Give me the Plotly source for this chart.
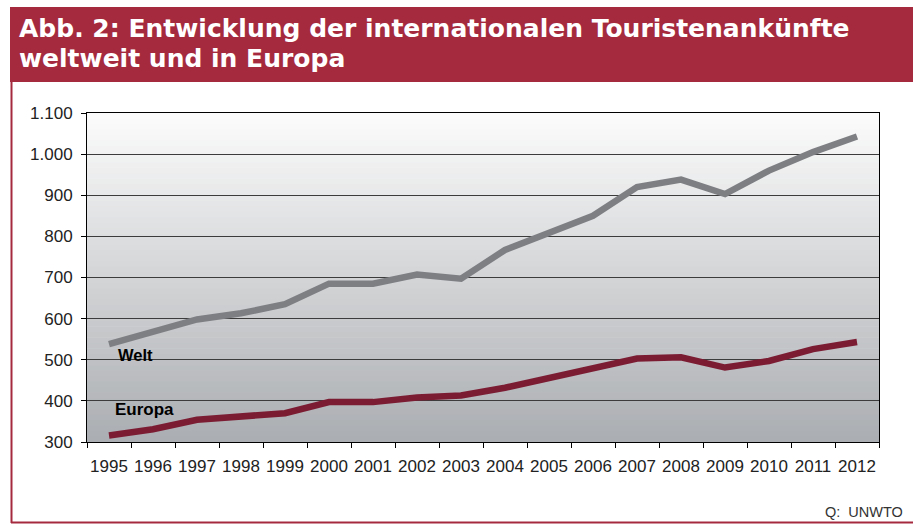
import plotly.graph_objects as go

years = [str(y) for y in range(1995, 2013)]
welt = [538, 570, 598, 613, 635, 685, 685, 707, 697, 767, 807, 850, 920, 938, 903, 960, 1005, 1043]
europa = [316, 331, 354, 362, 370, 397, 397, 408, 413, 432, 455, 477, 503, 506, 481, 497, 526, 543]
y_ticks = [300, 400, 500, 600, 700, 800, 900, 1000, 1100]

W_PX, H_PX = 913, 524
L, R, T, B = 87, 34, 113, 82
PW, PH = W_PX - L - R, H_PX - T - B

def px(x):
    return (x - L) / PW

def py(y):
    return (H_PX - B - y) / PH

RED = "#a52a3e"
shapes = []
# gradient plot background
n = 60
top_c = (252, 252, 252)
bot_c = (170, 173, 177)
for i in range(n):
    f = (i + 0.5) / n  # 0 bottom -> 1 top
    c = [round(bot_c[k] + (top_c[k] - bot_c[k]) * f) for k in range(3)]
    shapes.append(dict(type="rect", xref="paper", yref="paper", x0=0, x1=1,
                       y0=i / n, y1=(i + 1) / n + 0.002, line=dict(width=0),
                       fillcolor="rgb(%d,%d,%d)" % tuple(c), layer="below"))
# title band
shapes.append(dict(type="rect", xref="paper", yref="paper", x0=px(10), x1=px(914),
                   y0=py(82), y1=py(7), line=dict(width=0), fillcolor=RED, layer="above"))
# frame lines
shapes.append(dict(type="line", xref="paper", yref="paper", x0=px(11.5), x1=px(11.5),
                   y0=py(82), y1=py(523), line=dict(color=RED, width=2)))
shapes.append(dict(type="line", xref="paper", yref="paper", x0=px(11), x1=px(914),
                   y0=py(522.5), y1=py(522.5), line=dict(color=RED, width=2)))

fig = go.Figure()
fig.add_trace(go.Scatter(x=years, y=welt, mode="lines", name="Welt",
                         line=dict(color="#7d7f83", width=6.5)))
fig.add_trace(go.Scatter(x=years, y=europa, mode="lines", name="Europa",
                         line=dict(color="#7b1c33", width=6.5)))

annotations = [
    dict(text="<b>Abb. 2: Entwicklung der internationalen Touristenankünfte</b>",
         xref="paper", yref="paper", x=px(17), y=py(28), xanchor="left", yanchor="middle",
         showarrow=False, font=dict(family="DejaVu Sans", size=25, color="white")),
    dict(text="<b>weltweit und in Europa</b>",
         xref="paper", yref="paper", x=px(17), y=py(59), xanchor="left", yanchor="middle",
         showarrow=False, font=dict(family="DejaVu Sans", size=25, color="white")),
    dict(text="<b>Welt</b>", xref="paper", yref="paper", x=px(116), y=py(355),
         xanchor="left", yanchor="middle", showarrow=False,
         font=dict(family="Liberation Sans", size=16.5, color="black")),
    dict(text="<b>Europa</b>", xref="paper", yref="paper", x=px(113), y=py(409),
         xanchor="left", yanchor="middle", showarrow=False,
         font=dict(family="Liberation Sans", size=17, color="black")),
    dict(text="Q:  UNWTO", xref="paper", yref="paper", x=px(905), y=py(512),
         xanchor="right", yanchor="middle", showarrow=False,
         font=dict(family="Liberation Sans", size=14.5, color="#333333")),
]

fig.update_layout(
    width=W_PX, height=H_PX, autosize=False,
    margin=dict(l=L, r=R, t=T, b=B, pad=0),
    paper_bgcolor="white", plot_bgcolor="rgba(0,0,0,0)",
    showlegend=False, separators=",.",
    font=dict(family="Liberation Sans", size=17, color="#222222"),
    shapes=shapes, annotations=annotations,
)
fig.update_xaxes(type="category", range=[-0.5, 17.5], tickson="boundaries",
                 ticks="outside", ticklen=5, tickcolor="black", tickwidth=1,
                 showline=True, linecolor="black", linewidth=1, mirror=True,
                 showgrid=False, ticklabelstandoff=9, tickangle=0, fixedrange=True)
fig.update_yaxes(range=[300, 1100], tickvals=y_ticks, tickformat=",d",
                 ticks="outside", ticklen=5, tickcolor="black", tickwidth=1,
                 showline=True, linecolor="black", linewidth=1, mirror=True,
                 showgrid=True, gridcolor="#3c3c3c", gridwidth=1, zeroline=False,
                 ticklabelstandoff=5, fixedrange=True)

fig.write_html("out.html", config={"displayModeBar": False},
               post_script="document.body.style.margin='0';document.body.style.overflow='hidden';")
